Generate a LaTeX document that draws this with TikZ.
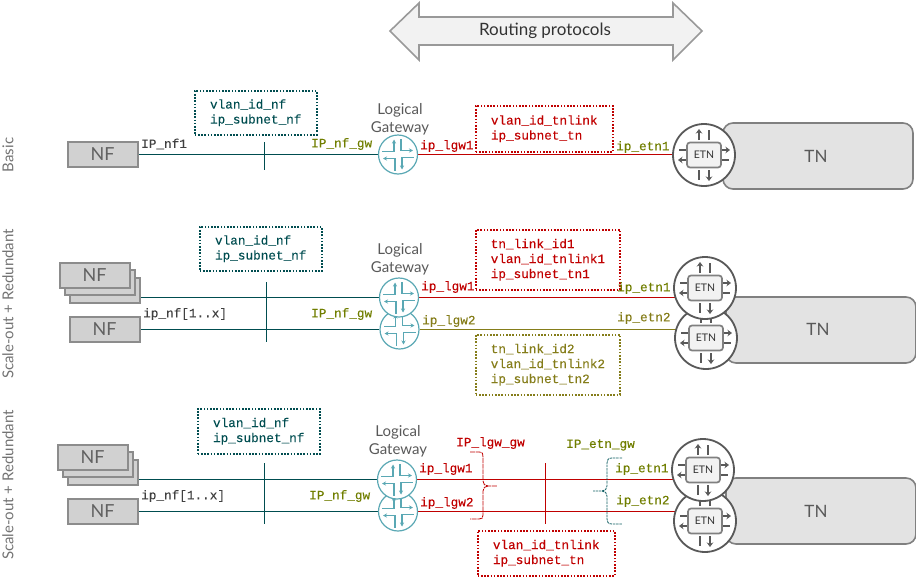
\documentclass[tikz,border=0pt]{standalone}
\usepackage{fontspec}
\setmainfont{Lato}
\setmonofont{Liberation Mono}[FakeBold=0.2]
\usetikzlibrary{arrows.meta, positioning, backgrounds}
\definecolor{nfteal}{RGB}{0, 77, 80}
\definecolor{tnred}{RGB}{192, 0, 0}
\definecolor{etnolive}{RGB}{112, 126, 0}
\definecolor{linkolive}{RGB}{133, 125, 26}
\definecolor{gwcyan}{RGB}{90, 168, 180}
\definecolor{darkgrey}{RGB}{89, 89, 89}
\tikzset{
  monolabel/.style={anchor=west, inner sep=0pt, font=\ttfamily\fontsize{12.7}{15}\selectfont},
  infobox/.style={monolabel, anchor=north west, line width=1.5pt, dash pattern=on 1.6pt off 1.6pt,
    align=left, inner xsep=15pt, inner ysep=0pt},
  nfbox/.style={draw=black!45, fill=black!18, line width=2pt, minimum width=70pt, minimum height=25pt,
    inner sep=0pt, text=black!62, font=\fontsize{18}{20}\selectfont},
  tnbox/.style={draw=black!50, fill=black!11, line width=1.6pt, rounded corners=10pt, minimum width=190pt,
    minimum height=66pt, inner sep=0pt},
  plaintext/.style={inner sep=0pt, text=darkgrey, align=center, font=\fontsize{15}{18}\selectfont},
  rowtitle/.style={plaintext, rotate=90, text=black!55},
  gwnode/.style={circle, draw=gwcyan, fill=white, line width=1.2pt, minimum size=39pt, inner sep=0pt},
  etnnode/.style={circle, draw=darkgrey, fill=white, line width=1.8pt, minimum size=62pt, inner sep=0pt},
  nfline/.style={nfteal, line width=1.1pt},
  tnline/.style={tnred, line width=1.1pt},
  oliveline/.style={linkolive, line width=1.1pt},
  gwicon/.pic={
    \foreach \ang in {0,90,180,270}
      \draw[rotate=\ang, gwcyan, line width=1.1pt, {Stealth[length=4pt,width=4pt]}-] (-4,-15) -- (-4,-3) -- (-16,-3);
  },
  etnicon/.pic={
    \foreach \ang in {0,90,180,270} {
      \draw[rotate=\ang, darkgrey, line width=2pt, -{Stealth[length=4.5pt,width=6.5pt]}] (-5,-15) -- (-5,-26);
      \draw[rotate=\ang, darkgrey, line width=2pt] (5,-15) -- (5,-25);
    }
    \node[draw=black!50, fill=black!5, line width=1.7pt, rounded corners=3pt, minimum width=34pt, minimum height=25pt,
      inner sep=0pt, text=black!80, font=\fontsize{10.5}{12}\selectfont] (box) {ETN};
  },
}
\begin{document}
\begin{tikzpicture}[x=1pt, y=-1pt]
  \useasboundingbox (0,0) rectangle (916,576);

  % Routing protocols arrow
  \draw[draw=black!40, fill=black!5, line width=1.6pt] (390,31) -- (419,3) -- (419,17) -- (673,17) -- (673,3)
    -- (702,31) -- (673,60) -- (673,45) -- (419,45) -- (419,60) -- cycle;
  \node[plaintext, text=black!80, font=\fontsize{17}{18}\selectfont] (routing) at (545,31) {Routing protocols};

  % Basic
  \node[rowtitle] (basic) at (8,155) {Basic};
  \node[nfbox] (nf1) at (102.5,154.5) {NF};
  \node[infobox, draw=nfteal, text=nfteal, minimum width=122pt, minimum height=44pt] (nfinfo1) at (194,90) {vlan\_id\_nf\\ip\_subnet\_nf};
  \node[plaintext] (lgtext1) at (400,119) {Logical\\Gateway};
  \node[gwnode] (gw1) at (398,154.5) {};
  \pic at (gw1) {gwicon};
  \node[infobox, draw=tnred, text=tnred, minimum width=137pt, minimum height=46pt] (tninfo1) at (475,105) {vlan\_id\_tnlink\\ip\_subnet\_tn};
  \node[tnbox] (tn1) at (818,156) {};
  \node[plaintext, font=\fontsize{17}{18}\selectfont] (tntext1) at (816,156) {TN};
  \node[etnnode] (etn1) at (704,155) {};
  \pic (etn1) at (etn1) {etnicon};
  \node[monolabel, text=black!75] (ipnf1) at (141,144) {IP\_nf1};
  \node[monolabel, text=etnolive] (ipgw1) at (311,144) {IP\_nf\_gw};
  \node[monolabel, text=tnred] (iplgw1) at (420,146) {ip\_lgw1};
  \node[monolabel, text=etnolive] (ipetn1) at (616,147) {ip\_etn1};
  \coordinate (tick1a) at (264.5,142);
  \coordinate (tick1b) at (264.5,170);
  \begin{scope}[on background layer]
    \draw[nfline] (nf1) -- (gw1);
    \draw[tnline] (gw1) -- (gw1 -| etn1.west);
    \draw[nfline] (tick1a) -- (tick1b);
  \end{scope}

  % Scale-out + Redundant, two ETN links
  \node[rowtitle] (scale2) at (8,304) {Scale-out + Redundant};
  \node[nfbox] (nf2c) at (104.5,290) {};
  \node[nfbox] (nf2b) at (99.5,282.5) {};
  \node[nfbox] (nf2a) at (94.5,275) {NF};
  \node[nfbox] (nf2d) at (104.5,329.5) {NF};
  \node[infobox, draw=nfteal, text=nfteal, minimum width=122pt, minimum height=44pt] (nfinfo2) at (199,226) {vlan\_id\_nf\\ip\_subnet\_nf};
  \node[plaintext] (lgtext2) at (400,259) {Logical\\Gateway};
  \node[gwnode] (gw2b) at (399.5,329.5) {};
  \pic at (gw2b) {gwicon};
  \node[gwnode] (gw2a) at (399,297.5) {};
  \pic at (gw2a) {gwicon};
  \node[infobox, draw=tnred, text=tnred, minimum width=144pt, minimum height=60pt] (tninfo2) at (475,229) {tn\_link\_id1\\vlan\_id\_tnlink1\\ip\_subnet\_tn1};
  \node[infobox, draw=linkolive, text=linkolive, minimum width=144pt, minimum height=60pt] (tninfo3) at (475,334) {tn\_link\_id2\\vlan\_id\_tnlink2\\ip\_subnet\_tn2};
  \node[tnbox] (tn2) at (821,330) {};
  \node[plaintext, font=\fontsize{17}{18}\selectfont] (tntext2) at (818,329) {TN};
  \node[etnnode] (etn2b) at (706,338) {};
  \pic (etn2b) at (etn2b) {etnicon};
  \node[etnnode] (etn2a) at (705,288) {};
  \pic (etn2a) at (etn2a) {etnicon};
  \node[monolabel, text=black!75] (ipnf2) at (143,314) {ip\_nf[1..x]};
  \node[monolabel, text=etnolive] (ipgw2) at (311,314) {IP\_nf\_gw};
  \node[monolabel, text=tnred] (iplgw2a) at (421,287) {ip\_lgw1};
  \node[monolabel, text=linkolive] (iplgw2b) at (422,321) {ip\_lgw2};
  \node[monolabel, text=etnolive] (ipetn2a) at (617,288) {ip\_etn1};
  \node[monolabel, text=linkolive] (ipetn2b) at (617,318) {ip\_etn2};
  \coordinate (tick2a) at (266.5,282);
  \coordinate (tick2b) at (266.5,342);
  \begin{scope}[on background layer]
    \draw[nfline] (gw2a) -- (gw2a -| nf2c.east);
    \draw[nfline] (nf2d) -- (gw2b);
    \draw[nfline] (tick2a) -- (tick2b);
    \draw[tnline] (gw2a) -- (gw2a -| etn2a.center);
    \draw[oliveline] (gw2b) -- (gw2b -| etn2b.center);
  \end{scope}

  % Scale-out + Redundant, shared gateway subnet
  \node[rowtitle] (scale3) at (8,485) {Scale-out + Redundant};
  \node[nfbox] (nf3c) at (102.5,472) {};
  \node[nfbox] (nf3b) at (97.5,464.5) {};
  \node[nfbox] (nf3a) at (92.5,457) {NF};
  \node[nfbox] (nf3d) at (102.5,511.5) {NF};
  \node[infobox, draw=nfteal, text=nfteal, minimum width=122pt, minimum height=45pt] (nfinfo4) at (197,408) {vlan\_id\_nf\\ip\_subnet\_nf};
  \node[plaintext] (lgtext3) at (398,441) {Logical\\Gateway};
  \node[gwnode] (gw3b) at (398,511.5) {};
  \pic at (gw3b) {gwicon};
  \node[gwnode] (gw3a) at (397,479.5) {};
  \pic at (gw3a) {gwicon};
  \node[infobox, draw=tnred, text=tnred, minimum width=137pt, minimum height=45pt] (tninfo4) at (477,530) {vlan\_id\_tnlink\\ip\_subnet\_tn};
  \node[tnbox] (tn3) at (821,511) {};
  \node[plaintext, font=\fontsize{17}{18}\selectfont] (tntext3) at (816,511) {TN};
  \node[etnnode] (etn3b) at (705,521) {};
  \pic (etn3b) at (etn3b) {etnicon};
  \node[etnnode] (etn3a) at (703,470) {};
  \pic (etn3a) at (etn3a) {etnicon};
  \node[monolabel, text=black!75] (ipnf3) at (141,496) {ip\_nf[1..x]};
  \node[monolabel, text=etnolive] (ipgw3) at (309,496) {IP\_nf\_gw};
  \node[monolabel, text=tnred] (iplgw3a) at (419,469) {ip\_lgw1};
  \node[monolabel, text=tnred] (iplgw3b) at (420,503) {ip\_lgw2};
  \node[monolabel, text=tnred] (iplgwgw) at (456,443) {IP\_lgw\_gw};
  \node[monolabel, text=etnolive] (ipetngw) at (566,445) {IP\_etn\_gw};
  \node[monolabel, text=etnolive] (ipetn3a) at (615,469) {ip\_etn1};
  \node[monolabel, text=etnolive] (ipetn3b) at (616,501) {ip\_etn2};
  \coordinate (tick3a) at (264.5,463);
  \coordinate (tick3b) at (264.5,524);
  \coordinate (tick3c) at (545.5,463);
  \coordinate (tick3d) at (545.5,524);
  \begin{scope}[on background layer]
    \draw[nfline] (gw3a) -- (gw3a -| nf3c.east);
    \draw[nfline] (nf3d) -- (gw3b);
    \draw[nfline] (tick3a) -- (tick3b);
    \draw[tnline] (gw3a) -- (gw3a -| etn3a.center);
    \draw[tnline] (gw3b) -- (gw3b -| etn3b.center);
    \draw[tnline] (tick3c) -- (tick3d);
  \end{scope}

  % Braces
  \draw[tnred, line width=0.8pt, dash pattern=on 5pt off 0.8pt] (470,452) -- (479,452) .. controls (483,452) and (483,454) .. (483,457)
    -- (483,481) .. controls (483,484) and (485,486) .. (488,486) -- (497,486);
  \draw[tnred, line width=0.8pt, dash pattern=on 5pt off 0.8pt] (488,486) .. controls (485,486) and (483,488) .. (483,491)
    -- (483,515) .. controls (483,518) and (482,519) .. (479,519) -- (470,519);
  \draw[nfteal!80!gwcyan, line width=0.8pt, dash pattern=on 2.5pt off 0.8pt] (622,458) -- (612,458) .. controls (608,458) and (607,460) .. (607,463)
    -- (607,486) .. controls (607,489) and (605,491) .. (602,491) -- (593,491);
  \draw[nfteal!80!gwcyan, line width=0.8pt, dash pattern=on 2.5pt off 0.8pt] (602,491) .. controls (605,491) and (607,493) .. (607,496)
    -- (607,519) .. controls (607,522) and (608,524) .. (612,524) -- (622,524);
\end{tikzpicture}
\end{document}
